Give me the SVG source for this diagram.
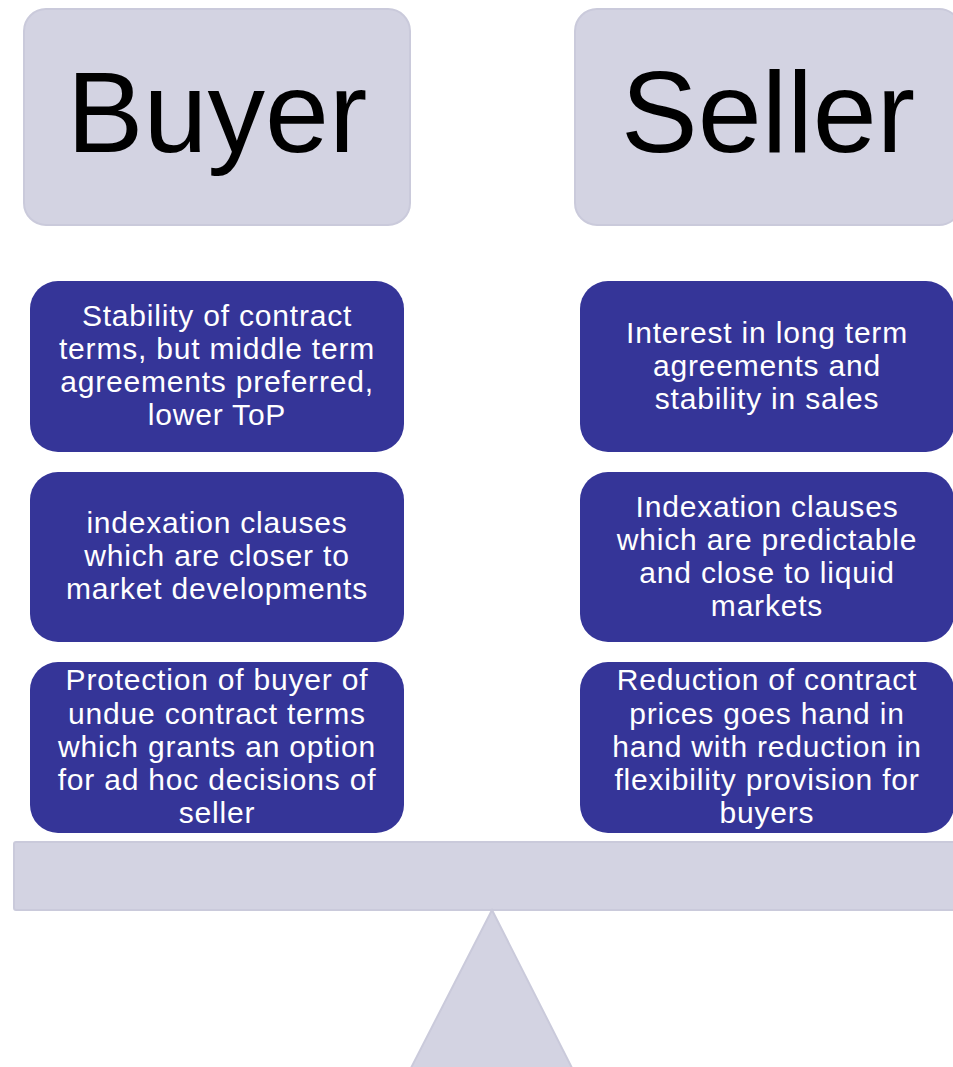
<svg xmlns="http://www.w3.org/2000/svg" width="953" height="1067" viewBox="0 0 953 1067">
<style>
.hdr{fill:#d3d3e2;stroke:#cacadb;stroke-width:2}
.box{fill:#353598}
.ht{font-family:"Liberation Sans",Arial,sans-serif;font-size:115px;fill:#000;text-anchor:middle}
.bt{font-family:"Liberation Sans",Arial,sans-serif;font-size:30px;letter-spacing:0.8px;fill:#fff;text-anchor:middle}
</style>
<rect width="953" height="1067" fill="#fff"/>
<g id="buyer">
<rect class="hdr" x="24" y="9" width="386" height="216" rx="22"/>
<text class="ht" x="217" y="152">Buyer</text>
</g>
<g id="seller">
<rect class="hdr" x="575" y="9" width="386" height="216" rx="22"/>
<text class="ht" x="768" y="152">Seller</text>
</g>
<g id="b1">
<rect class="box" x="30" y="281" width="374" height="171" rx="28"/>
<text class="bt"><tspan x="217" y="326">Stability of contract</tspan><tspan x="217" y="359">terms, but middle term</tspan><tspan x="217" y="392">agreements preferred,</tspan><tspan x="217" y="425">lower ToP</tspan></text>
</g>
<g id="b2">
<rect class="box" x="30" y="472" width="374" height="170" rx="28"/>
<text class="bt"><tspan x="217" y="533">indexation clauses</tspan><tspan x="217" y="566">which are closer to</tspan><tspan x="217" y="599">market developments</tspan></text>
</g>
<g id="b3">
<rect class="box" x="30" y="662" width="374" height="171" rx="28"/>
<text class="bt"><tspan x="217" y="690">Protection of buyer of</tspan><tspan x="217" y="724">undue contract terms</tspan><tspan x="217" y="757">which grants an option</tspan><tspan x="217" y="790">for ad hoc decisions of</tspan><tspan x="217" y="823">seller</tspan></text>
</g>
<g id="s1">
<rect class="box" x="580" y="281" width="374" height="171" rx="28"/>
<text class="bt"><tspan x="767" y="343">Interest in long term</tspan><tspan x="767" y="376">agreements and</tspan><tspan x="767" y="409">stability in sales</tspan></text>
</g>
<g id="s2">
<rect class="box" x="580" y="472" width="374" height="170" rx="28"/>
<text class="bt"><tspan x="767" y="517">Indexation clauses</tspan><tspan x="767" y="550">which are predictable</tspan><tspan x="767" y="583">and close to liquid</tspan><tspan x="767" y="616">markets</tspan></text>
</g>
<g id="s3">
<rect class="box" x="580" y="662" width="374" height="171" rx="28"/>
<text class="bt"><tspan x="767" y="690">Reduction of contract</tspan><tspan x="767" y="724">prices goes hand in</tspan><tspan x="767" y="757">hand with reduction in</tspan><tspan x="767" y="790">flexibility provision for</tspan><tspan x="767" y="823">buyers</tspan></text>
</g>
<g id="beam">
<rect class="hdr" x="14" y="842" width="950" height="68" rx="2"/>
</g>
<g id="fulcrum">
<polygon class="hdr" points="492,910 572,1068 411,1068"/>
</g>
<g id="connectors"></g>
</svg>
